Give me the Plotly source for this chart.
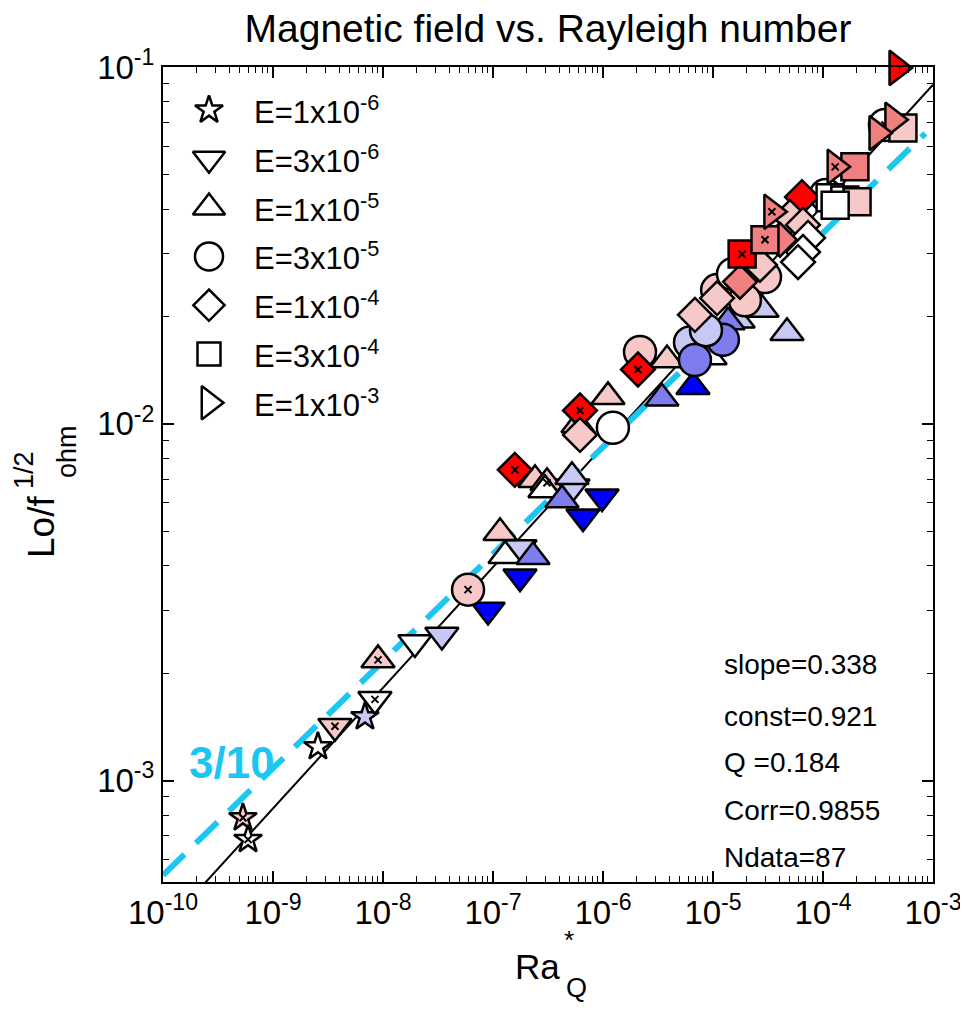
import numpy as np
import plotly.graph_objects as go

# ---------------- data ----------------
E_LABELS = ["E=1x10<sup>-6</sup>", "E=3x10<sup>-6</sup>", "E=1x10<sup>-5</sup>",
            "E=3x10<sup>-5</sup>", "E=1x10<sup>-4</sup>", "E=3x10<sup>-4</sup>",
            "E=1x10<sup>-3</sup>"]
SYMBOLS = ["star", "triangle-down", "triangle-up", "circle", "diamond", "square", "triangle-right"]
SIZES = [21, 29, 29, 32, 26, 27, 30]
LEG_SIZES = [21, 28, 28, 28, 24, 23, 29]

SHADES = {"W": "#FFFFFF", "P1": "#F6C8C8", "P2": "#F08080", "R": "#FF0000",
          "B1": "#C8C8F5", "B2": "#7D7DF0", "B3": "#0000FF"}

ra = [5.33e-10, 5.93e-10, 2.56e-9, 6.85e-9,
      3.66e-9, 8.45e-9, 1.95e-8, 3.43e-8, 9.02e-8, 1.76e-7, 1.76e-7, 5.33e-7, 9.80e-7, 6.58e-7,
      9.01e-9, 1.16e-7, 1.29e-7, 2.31e-7, 2.41e-7, 3.10e-7, 2.97e-7, 5.22e-7, 4.24e-7, 1.11e-6,
      5.93e-7, 3.82e-6, 3.43e-6, 6.58e-6, 1.69e-5, 2.79e-5, 4.71e-5, 1.37e-5, 9.40e-6,
      5.93e-8, 1.23e-6, 2.17e-6, 6.18e-6, 6.85e-6, 1.23e-5, 1.52e-5, 1.09e-5, 1.52e-5, 2.97e-5,
      1.06e-4, 3.66e-4, 8.63e-6, 1.95e-5,
      1.58e-7, 6.18e-7, 6.18e-7, 2.08e-6, 6.85e-6, 1.09e-5, 1.76e-5, 6.44e-5, 5.01e-5, 6.58e-5,
      7.31e-5, 6.58e-5, 5.93e-5, 4.06e-5, 2.67e-5,
      1.84e-5, 2.97e-5, 1.16e-4, 1.58e-4, 2.04e-4, 1.95e-4, 5.33e-4, 1.29e-4,
      4.71e-4, 4.32e-4, 3.10e-4, 3.43e-5, 1.29e-4]
lo = [7.87e-4, 6.84e-4, 1.245e-3, 1.51e-3,
      1.42e-3, 1.69e-3, 2.44e-3, 2.56e-3, 3.01e-3, 4.50e-3, 3.73e-3, 6.66e-3, 6.25e-3, 5.49e-3,
      2.18e-3, 4.95e-3, 4.27e-3, 4.24e-3, 6.97e-3, 6.84e-3, 6.53e-3, 7.11e-3, 6.12e-3, 1.19e-2,
      9.93e-3, 1.51e-2, 1.18e-2, 1.27e-2, 1.95e-2, 2.09e-2, 1.80e-2, 1.93e-2, 1.54e-2,
      3.43e-3, 9.75e-3, 1.59e-2, 1.69e-2, 1.51e-2, 1.72e-2, 2.33e-2, 2.37e-2, 2.63e-2, 2.58e-2,
      4.38e-2, 6.88e-2, 1.83e-2, 2.22e-2,
      7.43e-3, 1.09e-2, 9.31e-3, 1.42e-2, 2.02e-2, 2.25e-2, 2.50e-2, 4.32e-2, 3.80e-2, 3.61e-2,
      3.32e-2, 3.03e-2, 2.84e-2, 3.28e-2, 2.79e-2,
      2.99e-2, 3.28e-2, 4.30e-2, 4.24e-2, 4.19e-2, 5.25e-2, 6.75e-2, 4.10e-2,
      9.94e-2, 7.11e-2, 6.53e-2, 3.93e-2, 5.25e-2]
group = [0] * 4 + [1] * 10 + [2] * 19 + [3] * 14 + [4] * 15 + [5] * 8 + [6] * 5
shade = ["P1", "W", "W", "B1",
         "P1", "W", "W", "B1", "B3", "B1", "B3", "B1", "B3", "B3",
         "P1", "P1", "W", "B2", "P1", "P1", "W", "B1", "B2", "P1",
         "P1", "P1", "B2", "B3", "B1", "B1", "B1", "B2", "W",
         "P1", "W", "P1", "B1", "B2", "B2", "B1", "P1", "W", "P1",
         "W", "W", "B1", "P1",
         "R", "R", "P1", "R", "P1", "P1", "P2", "R", "P1", "P1",
         "W", "W", "W", "P2", "P1",
         "R", "P2", "W", "W", "P1", "P2", "P1", "W",
         "R", "P2", "P2", "P2", "P2"]
xmark = [1, 1, 0, 0,
         1, 1, 0, 0, 0, 0, 0, 0, 0, 0,
         1, 0, 0, 0, 0, 1, 0, 0, 0, 0,
         0, 0, 0, 0, 0, 0, 0, 0, 0,
         1, 0, 0, 0, 0, 0, 0, 0, 0, 0,
         1, 1, 0, 0,
         1, 1, 0, 1, 0, 0, 0, 0, 0, 0,
         0, 0, 0, 0, 0,
         1, 1, 0, 0, 0, 0, 0, 0,
         0, 0, 0, 1, 1]

FIT_SLOPE = 0.338
FIT_CONST = 0.921
REF_SLOPE = 0.3
REF_LOG_AT_MIN = -3.265
STATS = ["slope=0.338", "const=0.921", "Q =0.184", "Corr=0.9855", "Ndata=87"]

X_TICKS = [1e-10, 1e-9, 1e-8, 1e-7, 1e-6, 1e-5, 1e-4, 1e-3]
X_TICKTEXT = ["10<sup>-10</sup>", "10<sup>-9</sup>", "10<sup>-8</sup>", "10<sup>-7</sup>",
              "10<sup>-6</sup>", "10<sup>-5</sup>", "10<sup>-4</sup>", "10<sup>-3</sup>"]
Y_TICKS = [1e-3, 1e-2, 1e-1]
Y_TICKTEXT = ["10<sup>-3</sup>", "10<sup>-2</sup>", "10<sup>-1</sup>"]

# ---------------- geometry (page pixels) ----------------
FONT = "Liberation Sans, Arial, sans-serif"
W, H = 968, 1010
OFF = 8                      # default body margin of the html page
PL, PT, PR, PB = 163, 67, 933, 882   # wanted plot box on the page
PW, PH = PR - PL, PB - PT
ML, MT = PL - OFF, PT - OFF
MR = W - (PR - OFF)
MB = H - (PB - OFF)


def px(xp):
    return (xp - PL) / PW


def py(yp):
    return (PB - yp) / PH


fig = go.Figure()

ra_a = np.array(ra)
lo_a = np.array(lo)
g_a = np.array(group)
xm_a = np.array(xmark)
sh_a = np.array(shade)

# fitted line and 3/10 reference line
xl = np.logspace(-10, -3, 50)
fig.add_trace(go.Scatter(x=xl, y=FIT_CONST * xl ** FIT_SLOPE, mode="lines",
                         line=dict(color="black", width=2), showlegend=False, hoverinfo="skip"))
xr = np.logspace(-10, -3.07, 50)
fig.add_trace(go.Scatter(x=xr, y=10 ** (REF_LOG_AT_MIN + REF_SLOPE * (np.log10(xr) + 10)),
                         mode="lines", line=dict(color="#1CC6F2", width=6, dash="30px,16px"),
                         showlegend=False, hoverinfo="skip"))

for g in range(7):
    idx = np.where(g_a == g)[0]
    fig.add_trace(go.Scatter(
        x=ra_a[idx], y=lo_a[idx], mode="markers", showlegend=False, cliponaxis=False,
        marker=dict(symbol=SYMBOLS[g], size=SIZES[g],
                    color=[SHADES[s] for s in sh_a[idx]],
                    line=dict(color="black", width=2.5)),
        hoverinfo="skip"))
    jdx = idx[xm_a[idx] == 1]
    if len(jdx):
        fig.add_trace(go.Scatter(
            x=ra_a[jdx], y=lo_a[jdx], mode="markers", showlegend=False, cliponaxis=False,
            marker=dict(symbol="x-thin", size=7, color="black", line=dict(color="black", width=2)),
            hoverinfo="skip"))

# manual legend on a hidden overlay axis (0..1 over the plot box)
leg_y = [py(110 + 48.8 * i) for i in range(7)]
for g in range(7):
    fig.add_trace(go.Scatter(
        x=[px(209)], y=[leg_y[g]], xaxis="x2", yaxis="y2", mode="markers",
        showlegend=False, cliponaxis=False, hoverinfo="skip",
        marker=dict(symbol=SYMBOLS[g], size=LEG_SIZES[g], color="white",
                    line=dict(color="black", width=2.5))))

BLACK = "black"
annotations = []
for g in range(7):
    annotations.append(dict(x=px(252), y=leg_y[g], xref="paper", yref="paper",
                            text=E_LABELS[g], showarrow=False, xanchor="left", yanchor="middle",
                            font=dict(family=FONT, size=31, color=BLACK)))
stat_py = [664, 716, 762, 810, 857]
for t, yp in zip(STATS, stat_py):
    annotations.append(dict(x=px(722), y=py(yp), xref="paper", yref="paper",
                            text=t, showarrow=False, xanchor="left", yanchor="middle",
                            font=dict(family=FONT, size=28, color=BLACK)))
# 3/10 label
annotations.append(dict(x=px(232), y=py(762), xref="paper", yref="paper",
                        text="<b>3/10</b>", showarrow=False, xanchor="center", yanchor="middle",
                        font=dict(family=FONT, size=44, color="#1CC6F2")))
# x axis title Ra_Q^*
annotations += [
    dict(x=px(537), y=py(966), xref="paper", yref="paper", text="Ra",
         showarrow=False, xanchor="center", yanchor="middle", font=dict(family=FONT, size=35, color=BLACK)),
    dict(x=px(569), y=py(940), xref="paper", yref="paper", text="*",
         showarrow=False, xanchor="center", yanchor="middle", font=dict(family=FONT, size=26, color=BLACK)),
    dict(x=px(576), y=py(988), xref="paper", yref="paper", text="Q",
         showarrow=False, xanchor="center", yanchor="middle", font=dict(family=FONT, size=27, color=BLACK)),
]
# y axis title Lo/f_ohm^(1/2)
annotations += [
    dict(x=px(41), y=py(527), xref="paper", yref="paper", text="Lo/f",
         textangle=-90, showarrow=False, xanchor="center", yanchor="middle",
         font=dict(family=FONT, size=37, color=BLACK)),
    dict(x=px(24), y=py(470), xref="paper", yref="paper", text="1/2",
         textangle=-90, showarrow=False, xanchor="center", yanchor="middle",
         font=dict(family=FONT, size=27, color=BLACK)),
    dict(x=px(67), y=py(452), xref="paper", yref="paper", text="ohm",
         textangle=-90, showarrow=False, xanchor="center", yanchor="middle",
         font=dict(family=FONT, size=27, color=BLACK)),
]

x_minor = [m * 10.0 ** e for e in range(-10, -3) for m in range(2, 10)]
y_minor = [m * 10.0 ** e for e in range(-4, -1) for m in range(2, 10)]

axis_common = dict(type="log", showgrid=False, zeroline=False, showline=True, linecolor="black",
                   linewidth=2, mirror="ticks", ticks="inside", ticklen=11, tickwidth=1.5,
                   tickcolor="black", tickfont=dict(family=FONT, size=33, color="black"))

fig.update_layout(
    width=W, height=H,
    margin=dict(l=ML, r=MR, t=MT, b=MB),
    paper_bgcolor="white", plot_bgcolor="white",
    showlegend=False,
    title=dict(text="Magnetic field vs. Rayleigh number", x=(PL + PW / 2 - OFF) / W, xanchor="center",
               y=1 - (28 - OFF) / H, yanchor="middle", font=dict(family=FONT, size=39, color="black")),
    xaxis=dict(axis_common, range=[-10, -3], tickvals=X_TICKS, ticktext=X_TICKTEXT,
               minor=dict(tickmode="array", tickvals=x_minor, ticks="inside", ticklen=6,
                          tickwidth=1.2, tickcolor="black", showgrid=False)),
    yaxis=dict(axis_common, range=[np.log10(5.2e-4), -1], tickvals=Y_TICKS, ticktext=Y_TICKTEXT,
               minor=dict(tickmode="array", tickvals=y_minor, ticks="inside", ticklen=6,
                          tickwidth=1.2, tickcolor="black", showgrid=False)),
    xaxis2=dict(range=[0, 1], overlaying="x", visible=False, showgrid=False, zeroline=False),
    yaxis2=dict(range=[0, 1], overlaying="y", visible=False, showgrid=False, zeroline=False),
    annotations=annotations,
)

fig.write_html("out.html")
